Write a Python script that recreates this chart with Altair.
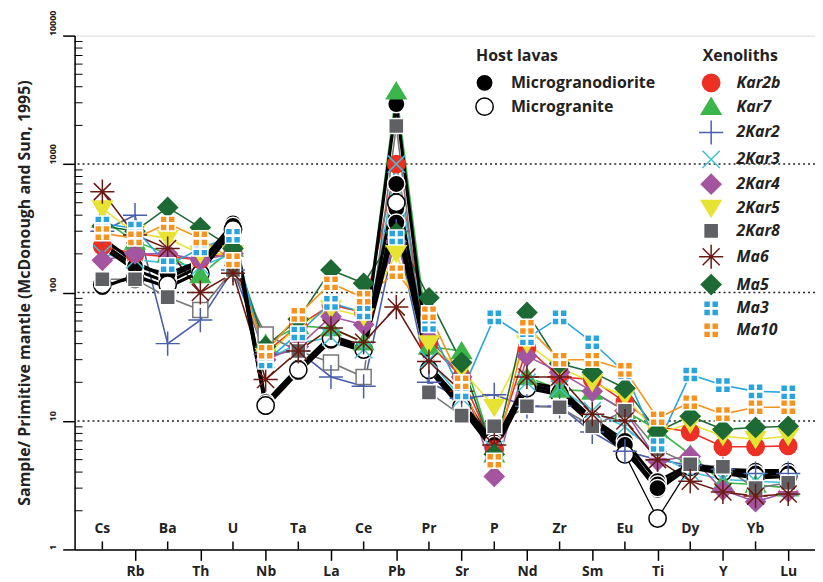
import json
import altair as alt
import pandas as pd

# ---------------- data ----------------
elements = ["Cs", "Rb", "Ba", "Th", "U", "Nb", "Ta", "La", "Ce", "Pb", "Pr",
            "Sr", "P", "Nd", "Zr", "Sm", "Eu", "Ti", "Dy", "Y", "Yb", "Lu"]

host_types = ["Microgranodiorite", "Microgranite"]
mgd_a = [264, 172, 130, 170, 345, 14, 26, 46, 38, 2930, 27, 14, 6.8, 20, 18, 10.5, 7.0, 3.4, 4.6, 4.2, 4.1, 4.1]
mgd_b = [225, 150, 120, 160, 320, 13, 25, 44, 37, 700, 26, 13, 6.2, 19, 17, 10, 6.0, 2.9, 4.4, 4.0, 3.8, 3.9]
mgd_c = [110, 135, 110, 145, 300, 12.8, 24, 42, 35, 450, 25, 12.5, 5.8, 18, 16, 9.5, 5.7, 3.2, 4.3, 3.9, 3.6, 3.7]
mgd_d = [240, 160, 140, 175, 330, 13.5, 25, 45, 36, 350, 26, 13.2, 6.5, 19, 17, 10, 6.5, 3.0, 4.5, 4.1, 3.9, 3.9]
mg_a = [115, 128, 115, 140, 310, 13.2, 25, 44, 36, 500, 25, 13, 6, 18, 16, 9.8, 5.5, 1.74, 4.4, 4.0, 3.7, 3.7]

xeno_names = ["Kar2b", "Kar7", "2Kar2", "2Kar3", "2Kar4", "2Kar5", "2Kar8", "Ma6", "Ma5", "Ma3", "Ma10"]
kar2b = [230, 200, 190, 180, 210, 34, 55, 80, 70, 1000, 40, 22, 6, 37, 22, 21, 14, 9, 8.2, 6.3, 6.3, 6.4]
kar7 = [370, 250, 200, 137, 220, 40, 55, 53, 41, 3690, 38, 35, 5.5, 22, 17.6, 17, 12, 8.5, 5.5, 3.3, 3.2, 3.0]
kar2_2 = [300, 400, 40, 61, 150, 33, 35, 22, 18.6, 300, 20, 15, 16, 13, 13, 8.2, 5.8, 5, 4.5, 4.2, 3.9, 3.9]
kar2_3 = [200, 180, 170, 160, 200, 30, 40, 45, 36, 1000, 30, 15, 6, 20, 18, 12, 9, 5.5, 4.0, 3.5, 3.4, 3.3]
kar2_4 = [178, 200, 200, 180, 200, 30, 38, 65, 56, 250, 44, 22, 3.7, 32, 24, 17, 12, 4.9, 5.3, 2.9, 2.35, 2.8]
kar2_5 = [450, 290, 264, 200, 200, 32, 55, 75, 65, 202, 40, 25, 12.8, 40, 26, 20, 15.5, 8, 9.5, 7.6, 7.2, 7.6]
kar2_8 = [127, 127, 92, 73, 150, 47, 35, 28.5, 22, 1980, 16.7, 11, 9.1, 13, 12.8, 9.1, 12, 6, 4.6, 4.4, 3.0, 3.3]
ma6 = [610, 280, 220, 100, 141, 21, 35, 53, 41, 77, 29, 17, 6.5, 22, 22, 11.3, 10, 5, 3.4, 2.8, 2.6, 2.7]
ma5 = [330, 300, 460, 320, 220, 38, 62, 150, 118, 290, 91, 28.5, 5.5, 70, 28, 24, 18, 8.3, 10.9, 8.6, 8.9, 9.1]
ma3 = [345, 315, 163, 220, 277, 29, 48, 83, 70, 268, 56, 16.7, 64, 44, 64, 41, 24, 6.5, 23, 19, 17, 16.7]
ma10 = [290, 264, 345, 264, 178, 34.6, 67, 118, 91, 144, 69, 20, 4.9, 54, 30, 30, 25, 10.5, 14, 11.3, 12.8, 12.8]
kar2_8_open = ["Th", "Nb", "La", "Ce"]

y_ticks = [1, 10, 100, 1000, 10000]
grid_values = [10, 100, 1000]

# ---------------- tables ----------------
host_series = [("MGD-A", "Microgranodiorite", mgd_a), ("MGD-B", "Microgranodiorite", mgd_b),
               ("MGD-C", "Microgranodiorite", mgd_c), ("MGD-D", "Microgranodiorite", mgd_d),
               ("MG-A", "Microgranite", mg_a)]
host_rows = []
for sample, lava, vals in host_series:
    for i, (el, v) in enumerate(zip(elements, vals)):
        host_rows.append({"sample": sample, "lava": lava, "idx": i, "element": el, "value": v})
host_df = pd.DataFrame(host_rows)

xeno_vals = [kar2b, kar7, kar2_2, kar2_3, kar2_4, kar2_5, kar2_8, ma6, ma5, ma3, ma10]
xeno_rows = []
for name, vals in zip(xeno_names, xeno_vals):
    for i, (el, v) in enumerate(zip(elements, vals)):
        is_open = name == "2Kar8" and el in kar2_8_open
        xeno_rows.append({"series": name, "order": xeno_names.index(name), "idx": i,
                          "element": el, "value": v, "open": is_open})
xeno_df = pd.DataFrame(xeno_rows)

elem_df = pd.DataFrame({"idx": list(range(len(elements))), "element": elements})
inner_df = elem_df[elem_df["idx"] % 2 == 0]
grid_df = pd.DataFrame({"value": grid_values})
minor_df = pd.DataFrame({"value": [m * d for d in [1, 10, 100, 1000] for m in range(2, 10)]})

# ---------------- styling ----------------
FONT = "Open Sans"
W, H = 745, 517

circ = "M1.15,0A1.15,1.15 0 1,1 -1.15,0A1.15,1.15 0 1,1 1.15,0Z"
tri_up = "M0,-1.15L1.3,1.0L-1.3,1.0Z"
tri_dn = "M0,1.15L1.3,-1.0L-1.3,-1.0Z"
plus = "M-1.6,0H1.6M0,-1.6V1.6"
xcross = "M-1.15,-1.15L1.15,1.15M-1.15,1.15L1.15,-1.15"
diamond = "M0,-1.3L1.3,0L0,1.3L-1.3,0Z"
square = "M-1,-1H1V1H-1Z"
aster = "M-1.6,0H1.6M0,-1.6V1.6M-1.13,-1.13L1.13,1.13M-1.13,1.13L1.13,-1.13"
foursq = ("M-1,-1H-0.08V-0.08H-1Z M0.08,-1H1V-0.08H0.08Z "
          "M-1,0.08H-0.08V1H-1Z M0.08,0.08H1V1H0.08Z")

x_shapes = [circ, tri_up, plus, xcross, diamond, tri_dn, square, aster, diamond, foursq, foursq]
x_fill = ["#ED2F24", "#3CB54A", "transparent", "transparent", "#A4559F", "#E6E333",
          "#5E6063", "transparent", "#1D6A35", "#29A4DD", "#F6921E"]
x_stroke = ["#ED2F24", "#3CB54A", "#4A5FAB", "#3FC2D7", "#A4559F", "#E6E333",
            "white", "#6A1A12", "#1D6A35", "white", "white"]
x_line = ["#ED2F24", "#3CB54A", "#4A5FAB", "#3FC2D7", "#A4559F", "#E6E333",
          "#777777", "#6A1A12", "#1D6A35", "#29A4DD", "#F6921E"]

label_expr = json.dumps(elements).replace('"', "'") + "[datum.value]"
x_axis = alt.Axis(values=list(range(1, len(elements), 2)), labelExpr=label_expr,
                  tickSize=11, tickWidth=1.5, tickColor="black", domainColor="black",
                  domainWidth=1.5, labelFontSize=14, labelFontWeight="bold",
                  labelColor="#222", labelPadding=4, grid=False, title=None, labelFont=FONT)
y_axis = alt.Axis(values=y_ticks, format="d", tickSize=12, tickWidth=1.5, tickColor="black",
                  domainColor="black", domainWidth=1.5, labelAngle=270, labelAlign="left",
                  labelBaseline="middle", labelFontSize=9, labelFontWeight="bold",
                  labelColor="#222", labelPadding=10, labelOffset=0, grid=False,
                  title="Sample/ Primitive mantle (McDonough and Sun, 1995)",
                  titleFontSize=16, titleFontWeight="bold", titleColor="#222",
                  titlePadding=16, labelFont=FONT, titleFont=FONT)

x_enc = alt.X("idx:Q", scale=alt.Scale(domain=[-0.85, 21.82], nice=False, zero=False), axis=x_axis)
y_enc = alt.Y("value:Q", scale=alt.Scale(type="log", domain=[1, 10000], nice=False), axis=y_axis)

host_legend = alt.Legend(orient="none", legendX=404, legendY=13, title="Host lavas",
                         titleFontSize=16, titleFontWeight="bold", titleColor="#222",
                         titleFont=FONT, titlePadding=10, labelFont=FONT,
                         labelFontSize=16, labelFontWeight="bold", labelColor="#222",
                         labelOffset=18, symbolSize=230, symbolStrokeWidth=1.5,
                         rowPadding=-1, padding=0, symbolOpacity=1)
xeno_legend = alt.Legend(orient="none", legendX=632, legendY=13, title="Xenoliths",
                         titleFontSize=16, titleFontWeight="bold", titleColor="#222",
                         titleFont=FONT, titlePadding=10, labelFont=FONT,
                         labelFontSize=16, labelFontWeight="bold", labelFontStyle="italic",
                         labelColor="#222", labelOffset=17, symbolSize=230,
                         symbolStrokeWidth=1.5, rowPadding=-1, padding=0, symbolOpacity=1)

# ---------------- layers ----------------
grid = alt.Chart(grid_df).mark_rule(strokeDash=[2, 3], color="#222", strokeWidth=1.4).encode(y=y_enc)
minor = alt.Chart(minor_df).mark_rule(color="black", strokeWidth=1).encode(
    y=y_enc, x=alt.value(0), x2=alt.value(8))
in_ticks = alt.Chart(inner_df).mark_rule(color="black", strokeWidth=1.5).encode(
    x=x_enc, y=alt.value(H), y2=alt.value(H - 8))
in_labels = alt.Chart(inner_df).mark_text(fontSize=14, fontWeight="bold", font=FONT,
                                          color="#222").encode(
    x=x_enc, y=alt.value(H - 21), text="element:N")

xeno_lines = alt.Chart(xeno_df).mark_line(strokeWidth=1.6).encode(
    x=x_enc, y=y_enc,
    color=alt.Color("series:N", scale=alt.Scale(domain=xeno_names, range=x_line), legend=None),
    detail="series:N")
mgd_lines = alt.Chart(host_df[host_df["lava"] == "Microgranodiorite"]).mark_line(
    color="black", strokeWidth=3.2).encode(x=x_enc, y=y_enc, detail="sample:N")
mg_lines = alt.Chart(host_df[host_df["lava"] == "Microgranite"]).mark_line(
    color="black", strokeWidth=1.3).encode(x=x_enc, y=y_enc, detail="sample:N")

host_pts = alt.Chart(host_df).mark_point(size=230, opacity=1, strokeWidth=1.5).encode(
    x=x_enc, y=y_enc,
    shape=alt.Shape("lava:N", scale=alt.Scale(domain=host_types, range=[circ, circ]), legend=host_legend),
    fill=alt.Fill("lava:N", scale=alt.Scale(domain=host_types, range=["black", "white"]), legend=host_legend),
    stroke=alt.Stroke("lava:N", scale=alt.Scale(domain=host_types, range=["white", "black"]), legend=host_legend),
)
xeno_pts = alt.Chart(xeno_df[~xeno_df["open"]]).mark_point(size=230, opacity=1, strokeWidth=1.5).encode(
    x=x_enc, y=y_enc,
    shape=alt.Shape("series:N", scale=alt.Scale(domain=xeno_names, range=x_shapes), legend=xeno_legend),
    fill=alt.Fill("series:N", scale=alt.Scale(domain=xeno_names, range=x_fill), legend=xeno_legend),
    stroke=alt.Stroke("series:N", scale=alt.Scale(domain=xeno_names, range=x_stroke), legend=xeno_legend),
    order="order:Q",
)
open_pts = alt.Chart(xeno_df[xeno_df["open"]]).mark_point(
    shape=square, size=230, opacity=1, strokeWidth=1.5, fill="white", stroke="#777777").encode(
    x=x_enc, y=y_enc)

chart = alt.layer(grid, minor, in_ticks, in_labels, xeno_lines, mgd_lines, mg_lines,
                  host_pts, open_pts, xeno_pts).resolve_scale(
    fill="independent", stroke="independent", shape="independent", color="independent"
).properties(
    width=W, height=H,
    padding={"left": 67, "top": 26, "right": 0, "bottom": 30},
    autosize=alt.AutoSizeParams(type="none"),
).configure_view(stroke=None).configure(font=FONT)

chart.save("out.html", embed_options={"renderer": "svg", "actions": False})
